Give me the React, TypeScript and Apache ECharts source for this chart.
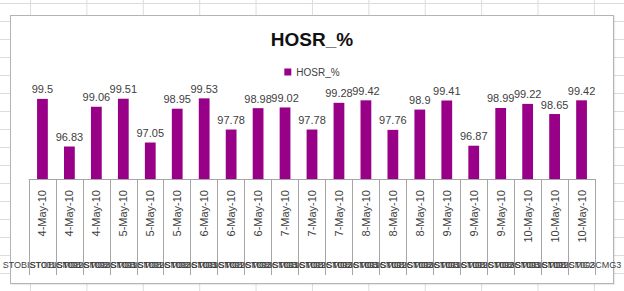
import React, { useEffect, useRef } from "react";
import * as echarts from "echarts";

const dates = [
  "4-May-10", "4-May-10", "4-May-10",
  "5-May-10", "5-May-10", "5-May-10",
  "6-May-10", "6-May-10", "6-May-10",
  "7-May-10", "7-May-10", "7-May-10",
  "8-May-10", "8-May-10", "8-May-10",
  "9-May-10", "9-May-10", "9-May-10",
  "10-May-10", "10-May-10", "10-May-10",
];

const cells = [
  "STOBIST001CMG1", "STOBIST002CMG2", "STOBIST003CMG3",
  "STOBIST001CMG1", "STOBIST002CMG2", "STOBIST003CMG3",
  "STOBIST001CMG1", "STOBIST002CMG2", "STOBIST003CMG3",
  "STOBIST001CMG1", "STOBIST002CMG2", "STOBIST003CMG3",
  "STOBIST001CMG1", "STOBIST002CMG2", "STOBIST003CMG3",
  "STOBIST001CMG1", "STOBIST002CMG2", "STOBIST003CMG3",
  "STOBIST001CMG1", "STOBIST002CMG2", "STOBIST003CMG3",
];

const hosr = [
  99.5, 96.83, 99.06, 99.51, 97.05, 98.95, 99.53, 97.78, 98.98, 99.02, 97.78,
  99.28, 99.42, 97.76, 98.9, 99.41, 96.87, 98.99, 99.22, 98.65, 99.42,
];

const seriesName = "HOSR_%";
const titleText = "HOSR_%";

export default function App() {
  const ref = useRef<HTMLDivElement>(null);

  useEffect(() => {
    if (!ref.current) return;
    const chart = echarts.init(ref.current, undefined, { renderer: "svg" });
    const font = "Liberation Sans, Arial, sans-serif";
    chart.setOption({
      animation: false,
      title: {
        text: titleText,
        left: "center",
        top: 25,
        textStyle: { fontSize: 19, fontWeight: "bold", color: "#111", fontFamily: font },
      },
      legend: {
        data: [seriesName],
        top: 62,
        left: "center",
        icon: "rect",
        itemWidth: 7,
        itemHeight: 7,
        itemGap: 4,
        textStyle: { fontSize: 10, color: "#404040", fontFamily: font },
      },
      grid: { left: 22, right: 26, top: 90, bottom: 112, containLabel: false },
      xAxis: [
        {
          type: "category",
          data: dates,
          position: "bottom",
          axisLine: { show: true, lineStyle: { color: "#a6a6a6", width: 1 } },
          axisTick: {
            show: true,
            interval: 0,
            length: 96,
            lineStyle: { color: "#a6a6a6", width: 1 },
          },
          axisLabel: {
            interval: 0,
            rotate: 90,
            margin: 11,
            fontSize: 11,
            color: "#404040",
            fontFamily: font,
          },
        },
        {
          type: "category",
          data: cells,
          position: "bottom",
          axisLine: { show: false },
          axisTick: { show: false },
          axisLabel: {
            interval: 0,
            margin: 81,
            fontSize: 9,
            color: "#404040",
            fontFamily: font,
          },
        },
      ],
      yAxis: {
        type: "value",
        min: 95,
        max: 100,
        show: false,
        splitLine: { show: false },
      },
      series: [
        {
          name: seriesName,
          type: "bar",
          xAxisIndex: 0,
          data: hosr,
          barWidth: "40%",
          itemStyle: { color: "#990088" },
          label: {
            show: true,
            position: "top",
            distance: 4,
            fontSize: 11,
            color: "#404040",
            fontFamily: font,
          },
        },
      ],
    });
    return () => chart.dispose();
  }, []);

  return (
    <div
      style={{
        position: "fixed",
        left: 0,
        top: 0,
        width: 624,
        height: 291,
        backgroundColor: "#ffffff",
        backgroundImage:
          "linear-gradient(to right, #dcdcdc 1px, transparent 1px), linear-gradient(to bottom, #dcdcdc 1px, transparent 1px)",
        backgroundSize: "56.4px 18px",
        backgroundPosition: "30px 3px",
      }}
    >
      <div
        style={{
          position: "absolute",
          left: 10,
          top: 15,
          width: 602,
          height: 267,
          background: "#fff",
          border: "1px solid #b4b4b4",
          boxShadow: "1px 1px 1px rgba(0,0,0,0.08)",
        }}
      />
      <div ref={ref} style={{ position: "absolute", left: 0, top: 0, width: 624, height: 291 }} />
    </div>
  );
}
